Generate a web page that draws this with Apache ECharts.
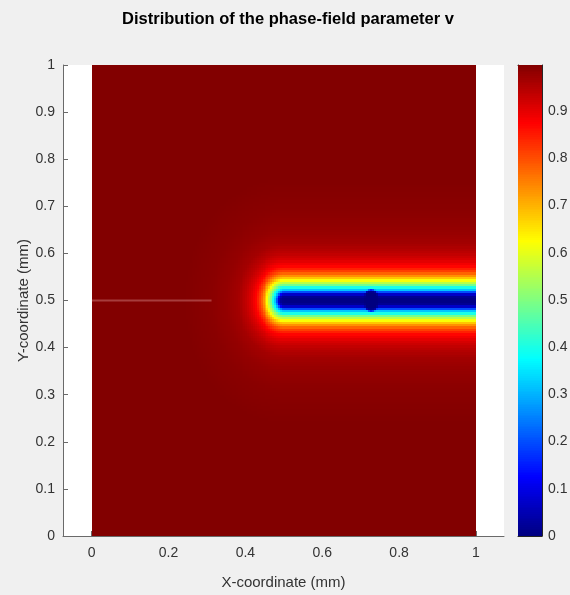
<!DOCTYPE html>
<html><head><meta charset="utf-8">
<script src="https://cdn.jsdelivr.net/npm/echarts@6/dist/echarts.min.js"></script>
<style>html,body{margin:0;padding:0;background:#f0f0f0}#c{width:570px;height:595px}</style>
</head><body><div id="c"></div><script>
// Crack path in the specimen (mm)
const crackStart = [0.50, 0.50];
const crackEnd = [1.00, 0.50];
// Pre-existing notch drawn as a thin line (mm)
const notchX = [0, 0.312];
const notchY = [0.5, 0.5];
// Local damage spots on the crack: x, y, radius (mm)
const spotX = [0.728];
const spotY = [0.5];
const spotR = [0.016];
// Phase-field value v against distance from the crack (mm)
const profileDist = [0, 0.008, 0.012, 0.016, 0.019, 0.024, 0.029, 0.033, 0.041, 0.049, 0.060, 0.072, 0.085, 0.10, 0.12, 0.15, 0.19, 0.26];
const profileV    = [0, 0.02, 0.06, 0.15, 0.25, 0.35, 0.42, 0.50, 0.60, 0.70, 0.80, 0.87, 0.91, 0.94, 0.965, 0.98, 0.99, 0.998];
// Axis ticks
const xTicks = [0, 0.2, 0.4, 0.6, 0.8, 1];
const yTicks = [0, 0.1, 0.2, 0.3, 0.4, 0.5, 0.6, 0.7, 0.8, 0.9, 1];
const cbTicks = [0, 0.1, 0.2, 0.3, 0.4, 0.5, 0.6, 0.7, 0.8, 0.9];
const cbMax = 0.998;
const cellSize = 0.005;

const jet = ['#000080', '#0000ff', '#0080ff', '#00ffff', '#80ff80', '#ffff00', '#ff8000', '#ff0000', '#800000'];
const FONT = 'Liberation Sans, Arial, Helvetica, sans-serif';
const AX = '#6a6a6a';
const TXT = '#333333';

function profileAt(d) {
  if (d <= profileDist[0]) return profileV[0];
  for (let i = 1; i < profileDist.length; i++) {
    if (d <= profileDist[i]) {
      const t = (d - profileDist[i - 1]) / (profileDist[i] - profileDist[i - 1]);
      return profileV[i - 1] + t * (profileV[i] - profileV[i - 1]);
    }
  }
  return profileV[profileV.length - 1];
}
function valueAt(x, y) {
  const ax = crackStart[0], ay = crackStart[1], bx = crackEnd[0], by = crackEnd[1];
  const dx = bx - ax, dy = by - ay;
  let t = ((x - ax) * dx + (y - ay) * dy) / (dx * dx + dy * dy);
  t = Math.max(0, Math.min(1, t));
  let v = profileAt(Math.hypot(x - (ax + t * dx), y - (ay + t * dy)));
  // damage spots have a tighter profile than the crack band
  for (let i = 0; i < spotX.length; i++) {
    const ds = Math.max(0, Math.hypot(x - spotX[i], y - spotY[i]) - spotR[i]);
    v = Math.min(v, profileAt(ds * 2.5));
  }
  return v;
}

// Field cells: [x0, y0, v]
const field = [];
const n = Math.round(1 / cellSize);
for (let i = 0; i < n; i++) {
  for (let j = 0; j < n; j++) {
    const x0 = i * cellSize, y0 = j * cellSize;
    field.push([x0, y0, valueAt(x0 + cellSize / 2, y0 + cellSize / 2)]);
  }
}
// Colour bar strips
const cbStep = cbMax / 256;
const cbStrips = [];
for (let k = 0; k < 256; k++) cbStrips.push([0, k * cbStep, (k + 0.5) * cbStep]);

function cellItem(w, h) {
  return function (params, api) {
    const x0 = api.value(0), y0 = api.value(1);
    const p1 = api.coord([x0, y0 + h]);
    const p2 = api.coord([x0 + w, y0]);
    const l = Math.round(p1[0]), t = Math.round(p1[1]);
    const r = Math.round(p2[0]), b = Math.round(p2[1]);
    return { type: 'rect', shape: { x: l, y: t, width: r - l, height: b - t },
      style: { fill: api.visual('color') } };
  };
}
const fmt = v => String(+v.toFixed(1));

const chart = echarts.init(document.getElementById('c'), null, { renderer: 'canvas' });
chart.setOption({
  backgroundColor: '#f0f0f0',
  animation: false,
  textStyle: { fontFamily: FONT },
  title: {
    text: 'Distribution of the phase-field parameter v',
    left: 283, top: 6, textAlign: 'center',
    textStyle: { fontFamily: FONT, fontSize: 16.5, fontWeight: 'bold', color: '#000' }
  },
  grid: [
    { left: 63, top: 65, width: 441, height: 471, show: true, backgroundColor: '#ffffff', borderWidth: 0,
      outerBoundsMode: 'none', containLabel: false },
    { left: 518, top: 65, width: 24, height: 471, outerBoundsMode: 'none', containLabel: false }
  ],
  xAxis: [
    { gridIndex: 0, type: 'value', min: -0.0745, max: 1.073,
      name: 'X-coordinate (mm)', nameLocation: 'middle', nameGap: 39, nameMoveOverlap: false,
      nameTextStyle: { fontFamily: FONT, fontSize: 15, color: TXT },
      axisLine: { show: true, onZero: false, lineStyle: { color: AX, width: 1 } },
      axisTick: { show: true, inside: true, length: 5, customValues: xTicks, lineStyle: { color: AX } },
      axisLabel: { customValues: xTicks, formatter: fmt, fontFamily: FONT, fontSize: 14, color: TXT, margin: 10 },
      splitLine: { show: false } },
    { gridIndex: 1, type: 'value', min: 0, max: 1, position: 'bottom',
      axisLine: { show: true, onZero: false, lineStyle: { color: '#262626', width: 1 } },
      axisTick: { show: false }, axisLabel: { show: false }, splitLine: { show: false } },
    { gridIndex: 1, type: 'value', min: 0, max: 1, position: 'top',
      axisLine: { show: true, onZero: false, lineStyle: { color: '#262626', width: 1 } },
      axisTick: { show: false }, axisLabel: { show: false }, splitLine: { show: false } }
  ],
  yAxis: [
    { gridIndex: 0, type: 'value', min: 0, max: 1, interval: 0.1,
      name: 'Y-coordinate (mm)', nameLocation: 'middle', nameGap: 32, nameRotate: 90, nameMoveOverlap: false,
      nameTextStyle: { fontFamily: FONT, fontSize: 15, color: TXT },
      axisLine: { show: true, onZero: false, lineStyle: { color: AX, width: 1 } },
      axisTick: { show: true, inside: true, length: 5, lineStyle: { color: AX } },
      axisLabel: { formatter: fmt, fontFamily: FONT, fontSize: 14, color: TXT, margin: 8 },
      splitLine: { show: false } },
    { gridIndex: 1, type: 'value', min: 0, max: cbMax, position: 'right',
      axisLine: { show: true, onZero: false, lineStyle: { color: '#262626', width: 1 } },
      axisTick: { show: true, inside: true, length: 3, customValues: cbTicks, lineStyle: { color: '#262626' } },
      axisLabel: { customValues: cbTicks, formatter: fmt, fontFamily: FONT, fontSize: 14, color: TXT, margin: 6 },
      splitLine: { show: false } },
    { gridIndex: 1, type: 'value', min: 0, max: cbMax, position: 'left',
      axisLine: { show: true, onZero: false, lineStyle: { color: '#262626', width: 1 } },
      axisTick: { show: false }, axisLabel: { show: false }, splitLine: { show: false } }
  ],
  visualMap: {
    type: 'continuous', show: false, min: 0, max: 1, dimension: 2,
    seriesIndex: [0, 2], inRange: { color: jet }
  },
  series: [
    { type: 'custom', xAxisIndex: 0, yAxisIndex: 0, data: field, progressive: 0,
      renderItem: cellItem(cellSize, cellSize), silent: true, z: 1 },
    { type: 'line', xAxisIndex: 0, yAxisIndex: 0, data: notchX.map((x, i) => [x, notchY[i]]),
      symbol: 'none', silent: true, z: 3,
      lineStyle: { color: 'rgba(255,200,200,0.3)', width: 2 } },
    { type: 'custom', xAxisIndex: 1, yAxisIndex: 1, data: cbStrips, progressive: 0,
      renderItem: cellItem(1, cbStep), silent: true, z: 1 }
  ]
});
</script></body></html>
